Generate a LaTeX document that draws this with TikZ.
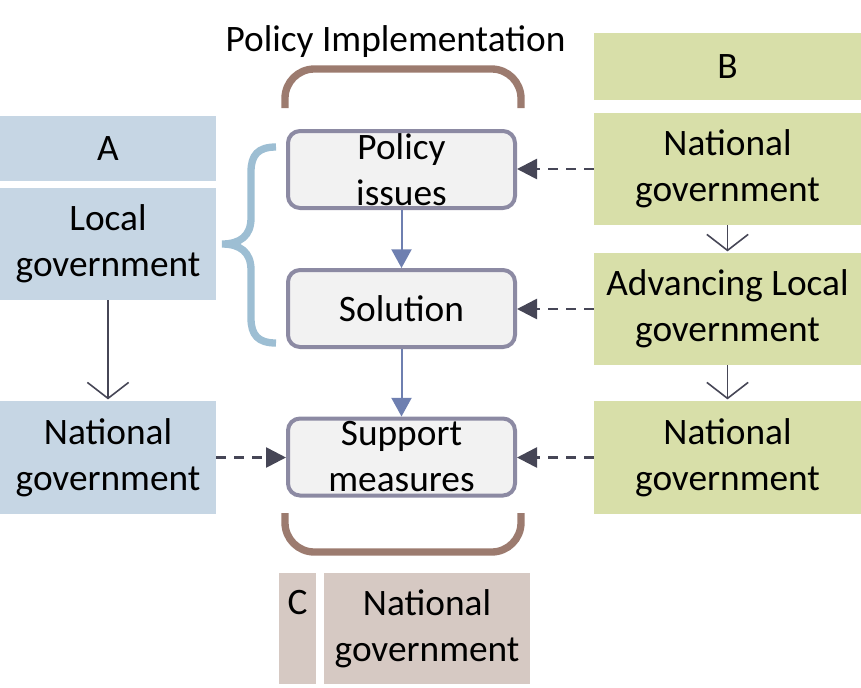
\documentclass[tikz,border=0pt]{standalone}
\usepackage{fontspec}
\setmainfont{Carlito}
\usetikzlibrary{arrows.meta}
\definecolor{boxA}{RGB}{198,214,228}
\definecolor{boxB}{RGB}{216,223,169}
\definecolor{boxC}{RGB}{214,201,195}
\definecolor{stepfill}{RGB}{242,242,242}
\definecolor{stepline}{RGB}{140,138,163}
\definecolor{brown}{RGB}{156,123,111}
\definecolor{lblue}{RGB}{157,190,211}
\definecolor{flow}{RGB}{110,127,176}
\definecolor{darkline}{RGB}{70,70,86}
\begin{document}
\begin{tikzpicture}[x = 0.75pt, y = -0.75pt,
	every node/.style = {font = \fontsize{28}{34.5}\selectfont, align = center, inner sep = 0pt},
	abox/.style = {fill = boxA, minimum width = 162pt},
	bbox/.style = {fill = boxB, minimum width = 200.25pt},
	cbox/.style = {fill = boxC, minimum height = 83.25pt},
	stepbox/.style = {draw = stepline, line width = 3pt, fill = stepfill, rounded corners = 9pt, minimum width = 170.25pt, minimum height = 57.75pt},
	flowarrow/.style = {draw = flow, line width = 1.5pt, -{Triangle[width = 15pt, length = 14pt]}},
	dasharrow/.style = {draw = darkline, line width = 2pt, dash pattern = on 7.5pt off 6pt, -{Triangle[width = 15pt, length = 15pt]}},
	openarrow/.style = {draw = darkline, line width = 1pt, shorten > = 1pt, -{Straight Barb[width = 31pt, length = 12pt, line width = 1.2pt]}},
	bracket/.style = {line width = 5.5pt}]
	\useasboundingbox (0, 0) rectangle (861, 687);
	% left column
	\node (A)	at (108, 148.5)	[abox, minimum height = 48.75pt]	{A};
	\node (LocA)	at (108, 244)	[abox, minimum height = 84pt]	{Local\\government};
	\node (NatA)	at (108, 457.5)	[abox, minimum height = 84.75pt]	{National\\government};
	% right column
	\node (B)	at (727.5, 66.5)	[bbox, minimum height = 50.25pt]	{B};
	\node (NatB1)	at (727.5, 169)	[bbox, minimum height = 84pt]	{National\\government};
	\node (AdvB)	at (727.5, 309)	[bbox, minimum height = 84pt]	{Advancing Local\\government};
	\node (NatB2)	at (727.5, 457.5)	[bbox, minimum height = 84.75pt]	{National\\government};
	% middle
	\node (Title)	at (395.5, 51)	[anchor = base]	{Policy Implementation};
	\node (Issues)	at (401.5, 169.5)	[stepbox]	{Policy\\issues};
	\node (Sol)	at (401.5, 308.5)	[stepbox]	{Solution};
	\node (Sup)	at (401.5, 457)	[stepbox]	{Support\\measures};
	\node (C)	at (297.5, 628.5)	[cbox, minimum width = 27.75pt]	{C\\\phantom{g}};
	\node (NatC)	at (427, 628.5)	[cbox, minimum width = 154.5pt]	{National\\government};
	% brackets
	\draw [bracket, brown, rounded corners = 22pt] (285, 108) -- (285, 69) -- (521, 69) -- (521, 108);
	\draw [bracket, brown, rounded corners = 22pt] (285, 513) -- (285, 552) -- (521, 552) -- (521, 513);
	\draw [bracket, lblue] (276, 147) .. controls (258, 147) and (251, 155) .. (251, 172) -- (251, 218)
		.. controls (251, 236) and (240, 244) .. (222, 244)
		.. controls (240, 244) and (251, 252) .. (251, 270) -- (251, 318)
		.. controls (251, 335) and (258, 343) .. (276, 343);
	% arrows
	\draw [flowarrow] (Issues) -- (Sol);
	\draw [flowarrow] (Sol) -- (Sup);
	\draw [openarrow] (LocA) -- (NatA);
	\draw [openarrow] (NatB1) -- (AdvB);
	\draw [openarrow] (AdvB) -- (NatB2);
	\draw [dasharrow] (NatB1.west) -- (Issues.east |- NatB1.west);
	\draw [dasharrow] (AdvB.west) -- (Sol.east |- AdvB.west);
	\draw [dasharrow] (NatB2.west) -- (Sup.east |- NatB2.west);
	\draw [dasharrow] (NatA.east) -- (Sup.west |- NatA.east);
\end{tikzpicture}
\end{document}
